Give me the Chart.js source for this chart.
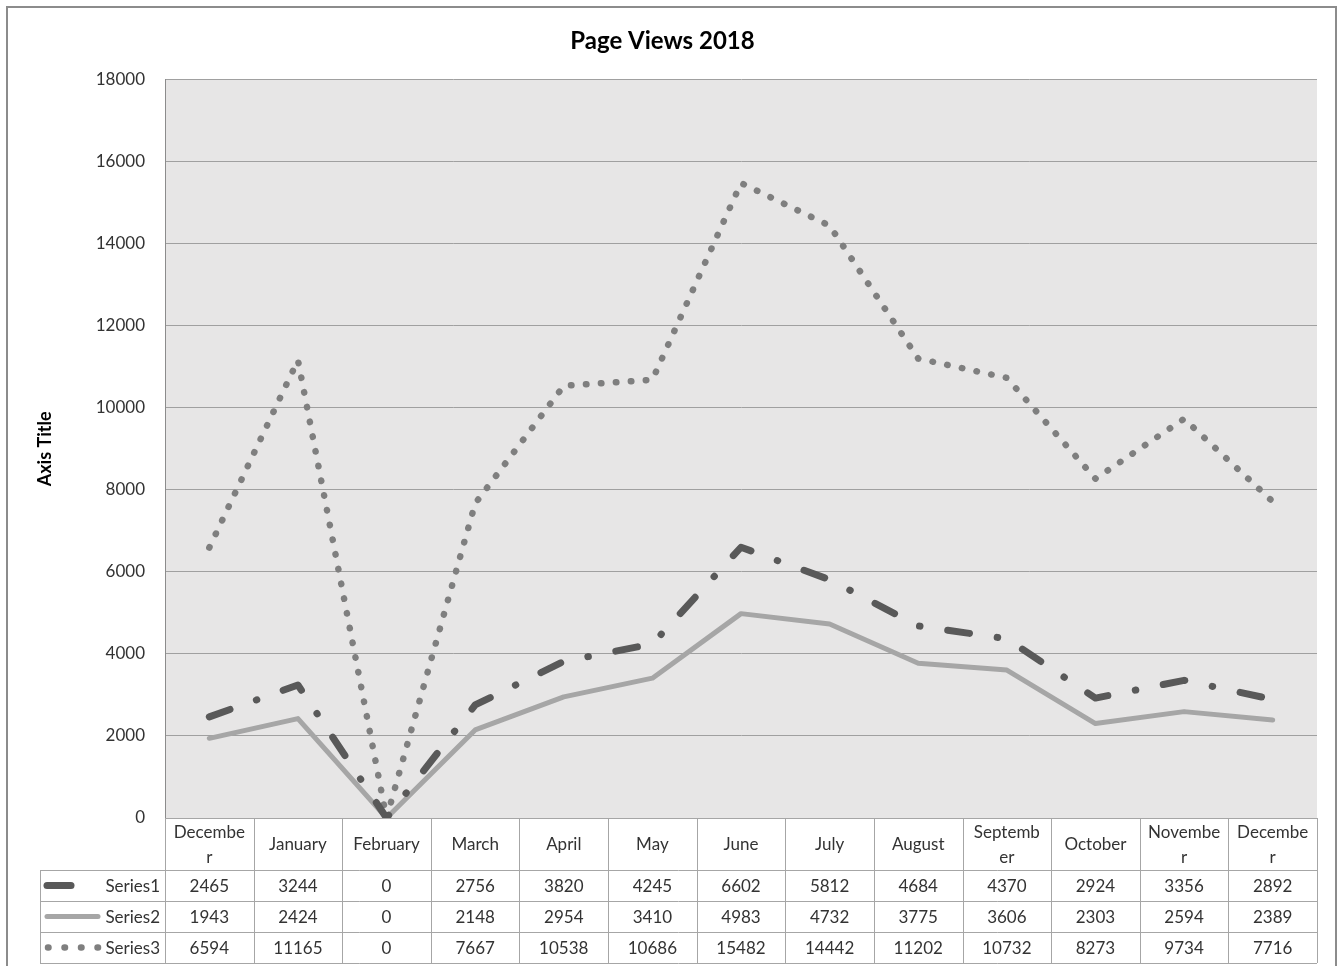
<!DOCTYPE html>
<html><head><meta charset="utf-8">
<script src="https://cdn.jsdelivr.net/npm/chart.js@4"></script>
<style>html,body{margin:0;padding:0;background:#fff}canvas{display:block}</style>
</head><body>
<canvas id="c" width="1344" height="966"></canvas>
<script>
const categories = ["December","January","February","March","April","May","June","July","August","September","October","November","December"];
const series1 = [2465,3244,0,2756,3820,4245,6602,5812,4684,4370,2924,3356,2892];
const series2 = [1943,2424,0,2148,2954,3410,4983,4732,3775,3606,2303,2594,2389];
const series3 = [6594,11165,0,7667,10538,10686,15482,14442,11202,10732,8273,9734,7716];
const seriesNames = ["Series1","Series2","Series3"];
const chartTitle = "Page Views 2018";
const yAxisTitle = "Axis Title";
const yMin = 0, yMax = 18000, yStep = 2000;

const FONT = "Lato, 'Open Sans', sans-serif";
const styles = [
  {color:'#595959', width:7, dash:[22,28,0.5,28]},
  {color:'#a6a6a6', width:5, dash:[]},
  {color:'#7f7f7f', width:6.5, dash:[0.5,14.5]}
];

const bgPlugin = {
  id:'bg',
  beforeDraw(chart){
    const {ctx, chartArea:a} = chart;
    ctx.save();
    ctx.fillStyle = '#e7e6e6';
    ctx.fillRect(a.left, a.top, a.right-a.left, a.bottom-a.top);
    ctx.restore();
  }
};

function wrapText(ctx, text, limit, lineMax){
  if (ctx.measureText(text).width <= limit) return [text];
  const lines = []; let cur = '';
  for (const ch of text){
    if (ctx.measureText(cur+ch).width > lineMax && cur){ lines.push(cur); cur = ch; }
    else cur += ch;
  }
  if (cur) lines.push(cur);
  return lines;
}

const tablePlugin = {
  id:'table',
  afterDraw(chart){
    const {ctx, chartArea:a} = chart;
    const xs = chart.scales.x;
    const n = categories.length;
    const colW = (a.right - a.left)/n;
    const headTop = a.bottom, headBot = a.bottom + 52, rowH = 31;
    const legLeft = 40;
    const tableBot = headBot + rowH*3;
    ctx.save();
    ctx.strokeStyle = '#a6a6a6';
    ctx.lineWidth = 1;
    ctx.beginPath();
    ctx.moveTo(a.left, headTop+0.5); ctx.lineTo(a.right, headTop+0.5);
    for (let r=0;r<=3;r++){
      const y = Math.round(headBot + r*rowH)+0.5;
      ctx.moveTo(legLeft, y); ctx.lineTo(a.right, y);
    }
    for (let i=0;i<=n;i++){
      const x = Math.round(a.left + i*colW)+0.5;
      ctx.moveTo(x, headTop); ctx.lineTo(x, tableBot);
    }
    ctx.moveTo(legLeft+0.5, headBot); ctx.lineTo(legLeft+0.5, tableBot);
    ctx.stroke();

    ctx.fillStyle = '#333333';
    ctx.font = '17px ' + FONT;
    ctx.textAlign = 'center';
    ctx.textBaseline = 'middle';
    categories.forEach((c,i)=>{
      const cx = xs.getPixelForValue(i);
      const lines = wrapText(ctx, c, 72, 74);
      const lh = 25;
      const cy = (headTop+headBot)/2 + 1;
      lines.forEach((l,k)=>{
        ctx.fillText(l, cx, cy + (k-(lines.length-1)/2)*lh);
      });
    });
    const allData = [series1, series2, series3];
    allData.forEach((arr,r)=>{
      const cy = headBot + r*rowH + rowH/2 + 1;
      arr.forEach((v,i)=>{
        ctx.fillText(String(v), xs.getPixelForValue(i), cy);
      });
    });
    allData.forEach((arr,r)=>{
      const cy = headBot + r*rowH + rowH/2;
      const st = styles[r];
      ctx.save();
      ctx.strokeStyle = st.color;
      ctx.lineWidth = st.width;
      ctx.lineCap = 'round';
      ctx.setLineDash(st.dash);
      ctx.beginPath();
      if (r===0){ ctx.setLineDash([]); ctx.moveTo(47, cy); ctx.lineTo(71, cy); }
      else if (r===1){ ctx.moveTo(47, cy); ctx.lineTo(98, cy); }
      else { ctx.setLineDash([0.5,16]); ctx.moveTo(48, cy); ctx.lineTo(98, cy); }
      ctx.stroke();
      ctx.restore();
      ctx.textAlign = 'right';
      ctx.fillText(seriesNames[r], a.left - 5, cy + 1);
    });
    ctx.strokeStyle = '#8c8c8c';
    ctx.lineWidth = 2;
    ctx.setLineDash([]);
    ctx.strokeRect(7, 7, 1329, 975);
    ctx.restore();
  }
};

const datasets = [series1, series2, series3].map((d,i)=>({
  label: seriesNames[i],
  data: d,
  borderColor: styles[i].color,
  backgroundColor: styles[i].color,
  borderWidth: styles[i].width,
  borderDash: styles[i].dash,
  borderCapStyle: 'round',
  borderJoinStyle: 'round',
  pointRadius: 0,
  pointHoverRadius: 0,
  tension: 0,
  fill: false
}));

new Chart(document.getElementById('c'), {
  type:'line',
  data:{ labels: categories, datasets },
  plugins:[bgPlugin, tablePlugin],
  options:{
    responsive:false,
    animation:false,
    events:[],
    layout:{ padding:{ left:8, right:27, top:0, bottom:0 } },
    plugins:{
      legend:{ display:false },
      tooltip:{ enabled:false },
      title:{ display:true, text: chartTitle, color:'#000',
        font:{ family: FONT, size:24, weight:'bold', lineHeight:1.2 },
        padding:{ top:27, bottom:24 } }
    },
    scales:{
      x:{
        type:'category',
        offset:true,
        grid:{ display:false },
        border:{ display:false },
        ticks:{ display:false },
        afterFit(s){ s.height = 148; }
      },
      y:{
        min:yMin, max:yMax,
        ticks:{ stepSize:yStep, padding:20, color:'#333333', font:{ family: FONT, size:17 },
          callback:(v)=>String(v) },
        grid:{ color:'#a0a0a0', lineWidth:1, drawTicks:false, tickLength:0 },
        border:{ display:true, color:'#8c8c8c', width:1 },
        title:{ display:true, text:yAxisTitle, color:'#000',
          font:{ family: FONT, size:18, weight:'bold' }, padding:{ top:26, bottom:0 } },
        afterFit(s){ s.width = 157; }
      }
    }
  }
});
</script>
</body></html>
